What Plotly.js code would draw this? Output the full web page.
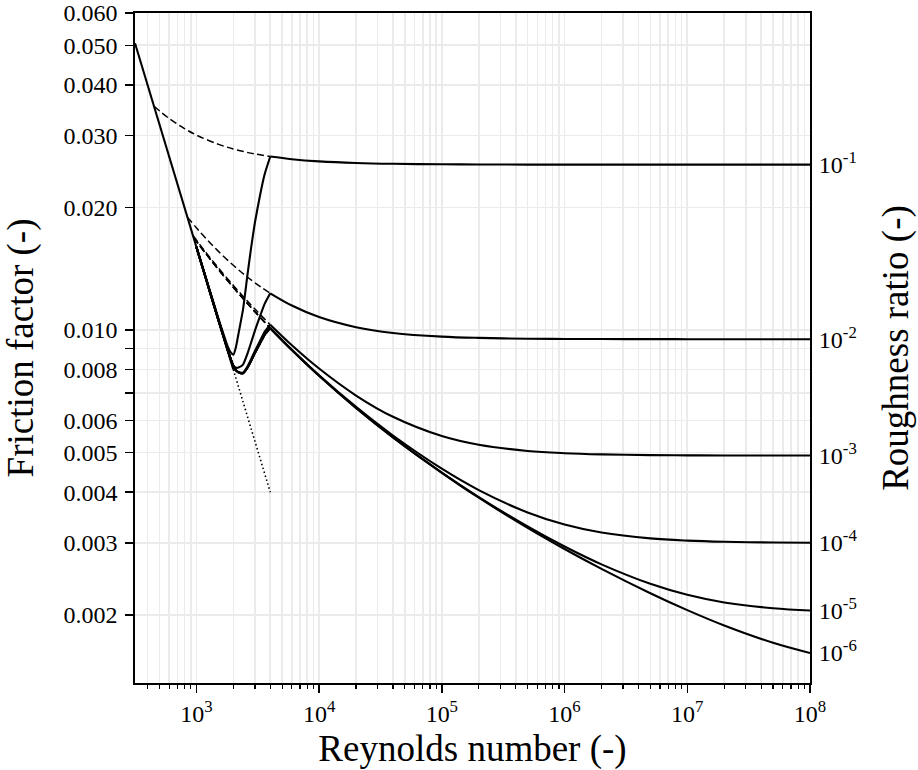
<!DOCTYPE html>
<html>
<head>
<meta charset="utf-8">
<script src="https://cdn.plot.ly/plotly-3.0.1.min.js"></script>
<style>html,body{margin:0;padding:0;background:#fff;}#chart{width:918px;height:770px;}</style>
</head>
<body>
<div id="chart"></div>
<script>
// ---------------- data ----------------
// laminar branch (solid) and its dotted extension
const reLaminar = [316.23, 2000];
const fLaminar = [0.050596, 0.008];
const reLaminarExt = [2000, 4000];
const fLaminarExt = [0.008, 0.004];

// turbulent branch, Re >= 4000
const reTurb = [4000, 6000, 1e4, 2e4, 4e4, 1e5, 2e5, 5e5, 1e6, 2e6, 5e6, 1e7, 2e7, 5e7, 1e8];
const fTurb_1e1 = [0.026658, 0.026263, 0.025946, 0.025706, 0.025586, 0.025514, 0.025489, 0.025475, 0.02547, 0.025467, 0.025466, 0.025466, 0.025465, 0.025465, 0.025465];
const fTurb_1e2 = [0.012309, 0.011487, 0.010761, 0.010161, 0.0098379, 0.0096347, 0.0095653, 0.0095232, 0.0095091, 0.009502, 0.0094978, 0.0094964, 0.0094956, 0.0094952, 0.0094951];
const fTurb_1e3 = [0.010304, 0.009176, 0.0080438, 0.0069065, 0.0061233, 0.0054916, 0.0052281, 0.0050494, 0.0049853, 0.0049524, 0.0049323, 0.0049255, 0.0049221, 0.0049201, 0.0049194];
const fTurb_1e4 = [0.010121, 0.0089506, 0.0077476, 0.0064767, 0.0055096, 0.0045663, 0.0040469, 0.0035659, 0.0033316, 0.0031841, 0.0030798, 0.0030415, 0.0030215, 0.0030093, 0.0030051];
const fTurb_1e5 = [0.010107, 0.0089327, 0.0077236, 0.0064402, 0.0054534, 0.0044642, 0.0038896, 0.0032941, 0.0029418, 0.0026597, 0.0023829, 0.0022395, 0.0021448, 0.0020749, 0.0020484];
const fTurb_1e6 = [0.010106, 0.0089312, 0.0077217, 0.0064374, 0.0054489, 0.0044631, 0.0038764, 0.0032688, 0.0029003, 0.0025923, 0.0022591, 0.0020534, 0.0018826, 0.0017071, 0.0016113];

// transition branch (solid), 1000 <= Re <= 4000
const reTrans = [1000, 1500, 1800, 1900, 2000, 2100, 2200, 2400, 2600, 2800, 3000, 3300, 3600, 4000];
const fTrans_1e1 = [0.016014, 0.010757, 0.0091192, 0.0088226, 0.0086948, 0.0090761, 0.0097639, 0.0112368, 0.0135515, 0.0160092, 0.0183633, 0.0213931, 0.0241076, 0.026658];
const fTrans_1e2 = [0.016, 0.010692, 0.0089603, 0.0085327, 0.0081925, 0.0080821, 0.0080877, 0.0082272, 0.0087239, 0.0093386, 0.0099699, 0.0108076, 0.0115914, 0.012309];
const fTrans_1e3 = [0.016, 0.010667, 0.0089424, 0.0085053, 0.0081461, 0.0079716, 0.0078951, 0.0078622, 0.0081254, 0.0084953, 0.0088875, 0.0094066, 0.0098939, 0.010304];
const fTrans_1e4 = [0.016, 0.010667, 0.0089408, 0.0085028, 0.0081418, 0.0079615, 0.0078773, 0.0078284, 0.0080694, 0.0084156, 0.0087927, 0.0092821, 0.0097416, 0.010121];
const fTrans_1e5 = [0.016, 0.010667, 0.0089408, 0.0085028, 0.0081418, 0.0079615, 0.0078773, 0.0078284, 0.0080694, 0.0084156, 0.0087849, 0.0092716, 0.0097284, 0.010107];
const fTrans_1e6 = [0.016, 0.010667, 0.0089408, 0.0085028, 0.0081418, 0.0079615, 0.0078773, 0.0078284, 0.0080694, 0.0084156, 0.0087849, 0.0092716, 0.0097284, 0.010106];

// turbulent correlation extended below Re = 4000 (dashed)
const reDash_1e1 = [452, 600, 800, 1000, 1500, 2000, 2500, 3000, 4000];
const fDash_1e1 = [0.03542, 0.033061, 0.031225, 0.030108, 0.028594, 0.027827, 0.027362, 0.02705, 0.026658];
const reDash_1e2 = [845, 1000, 1200, 1500, 2000, 2500, 3000, 4000];
const fDash_1e2 = [0.018932, 0.017828, 0.016769, 0.015641, 0.014418, 0.013624, 0.013061, 0.012309];
const reDash_1e3 = [938, 1200, 1500, 2000, 2500, 3000, 4000];
const fDash_1e3 = [0.017056, 0.015487, 0.014249, 0.012869, 0.011939, 0.011257, 0.010304];
const reDash_small = [948, 1200, 1500, 2000, 2500, 3000, 4000];
const fDash_1e4 = [0.016889, 0.015382, 0.014135, 0.012739, 0.011794, 0.011099, 0.010121];
const fDash_1e5 = [0.016882, 0.015374, 0.014126, 0.012729, 0.011783, 0.011087, 0.010107];
const fDash_1e6 = [0.016881, 0.015373, 0.014125, 0.012728, 0.011782, 0.011086, 0.010106];

// tick labels
const xTickVals = [1e3, 1e4, 1e5, 1e6, 1e7, 1e8];
const xTickText = ['10<sup>3</sup>', '10<sup>4</sup>', '10<sup>5</sup>', '10<sup>6</sup>', '10<sup>7</sup>', '10<sup>8</sup>'];
const yTickVals = [0.002, 0.003, 0.004, 0.005, 0.006, 0.007, 0.008, 0.009, 0.01, 0.02, 0.03, 0.04, 0.05, 0.06];
const yTickText = ['0.002', '0.003', '0.004', '0.005', '0.006', '', '0.008', '', '0.010', '0.020', '0.030', '0.040', '0.050', '0.060'];
const roughnessLabels = ['10<sup>-1</sup>', '10<sup>-2</sup>', '10<sup>-3</sup>', '10<sup>-4</sup>', '10<sup>-5</sup>', '10<sup>-6</sup>'];

// ---------------- drawing ----------------
const turbSets = [fTurb_1e1, fTurb_1e2, fTurb_1e3, fTurb_1e4, fTurb_1e5, fTurb_1e6];
const transSets = [fTrans_1e1, fTrans_1e2, fTrans_1e3, fTrans_1e4, fTrans_1e5, fTrans_1e6];
const dashSets = [[reDash_1e1, fDash_1e1], [reDash_1e2, fDash_1e2], [reDash_1e3, fDash_1e3],
                  [reDash_small, fDash_1e4], [reDash_small, fDash_1e5], [reDash_small, fDash_1e6]];

const traces = [];
function line(x, y, opts) {
  traces.push(Object.assign({
    x: x, y: y, type: 'scatter', mode: 'lines', hoverinfo: 'skip', showlegend: false,
    xaxis: 'x', yaxis: 'y'
  }, opts));
}
dashSets.forEach(function (d) {
  line(d[0], d[1], {line: {color: 'black', width: 1.5, dash: '7px,3.5px', shape: 'spline', smoothing: 1}});
});
line(reLaminarExt, fLaminarExt, {line: {color: 'black', width: 1.6, dash: '1.5px,2.6px'}});
line(reLaminar, fLaminar, {line: {color: 'black', width: 2.1}});
transSets.forEach(function (f) {
  line(reTrans, f, {line: {color: 'black', width: 2.1, shape: 'spline', smoothing: 0.5}});
});
turbSets.forEach(function (f) {
  line(reTurb, f, {line: {color: 'black', width: 2.1, shape: 'spline', smoothing: 1}});
});
// end points carry the right-hand axis
const endVals = turbSets.map(function (f) { return f[f.length - 1]; });
traces.push({x: endVals.map(function () { return reTurb[reTurb.length - 1]; }), y: endVals,
  type: 'scatter', mode: 'markers', marker: {opacity: 0, size: 1}, hoverinfo: 'skip',
  showlegend: false, xaxis: 'x', yaxis: 'y2'});

const xMinor = [];
for (let e = 2; e < 8; e++) {
  for (let k = 2; k <= 9; k++) {
    const v = k * Math.pow(10, e);
    if (v > 316.3) xMinor.push(v);
  }
}

const grid = '#ebebeb';
const yRange = [-2.8664, -1.2218];
const layout = {
  width: 918, height: 770,
  margin: {l: 135, r: 108, t: 13, b: 87},
  paper_bgcolor: 'white', plot_bgcolor: 'white',
  font: {family: 'Liberation Serif, serif', color: 'black', size: 24},
  showlegend: false,
  xaxis: {
    type: 'log', range: [2.5, 8], tickmode: 'array', tickvals: xTickVals, ticktext: xTickText,
    ticks: 'outside', ticklen: 8, tickwidth: 1.5, tickcolor: 'black',
    showline: true, linecolor: 'black', linewidth: 1.8, mirror: true,
    showgrid: true, gridcolor: grid, gridwidth: 1.6, zeroline: false,
    minor: {tickmode: 'array', tickvals: xMinor, ticks: 'outside', ticklen: 4, tickwidth: 1.2,
            tickcolor: 'black', showgrid: true, gridcolor: grid, gridwidth: 1.6},
    title: {text: 'Reynolds number (-)', font: {size: 37}, standoff: 9}
  },
  yaxis: {
    type: 'log', range: yRange, tickmode: 'array', tickvals: yTickVals, ticktext: yTickText,
    ticks: 'outside', ticklen: 8, tickwidth: 1.5, tickcolor: 'black', ticklabelstandoff: 3,
    showline: true, linecolor: 'black', linewidth: 1.8, mirror: true,
    showgrid: true, gridcolor: grid, gridwidth: 1.6, zeroline: false,
    title: {text: 'Friction factor (-)', font: {size: 37}, standoff: 21}
  },
  yaxis2: {
    type: 'log', range: yRange, overlaying: 'y', side: 'right',
    tickmode: 'array', tickvals: endVals, ticktext: roughnessLabels,
    ticks: 'outside', ticklen: 3, tickcolor: 'rgba(0,0,0,0)',
    showline: false, showgrid: false, zeroline: false,
    title: {text: 'Roughness ratio (-)', font: {size: 37}, standoff: 25}
  }
};
Plotly.newPlot('chart', traces, layout, {displayModeBar: false, staticPlot: true});
</script>
</body>
</html>
